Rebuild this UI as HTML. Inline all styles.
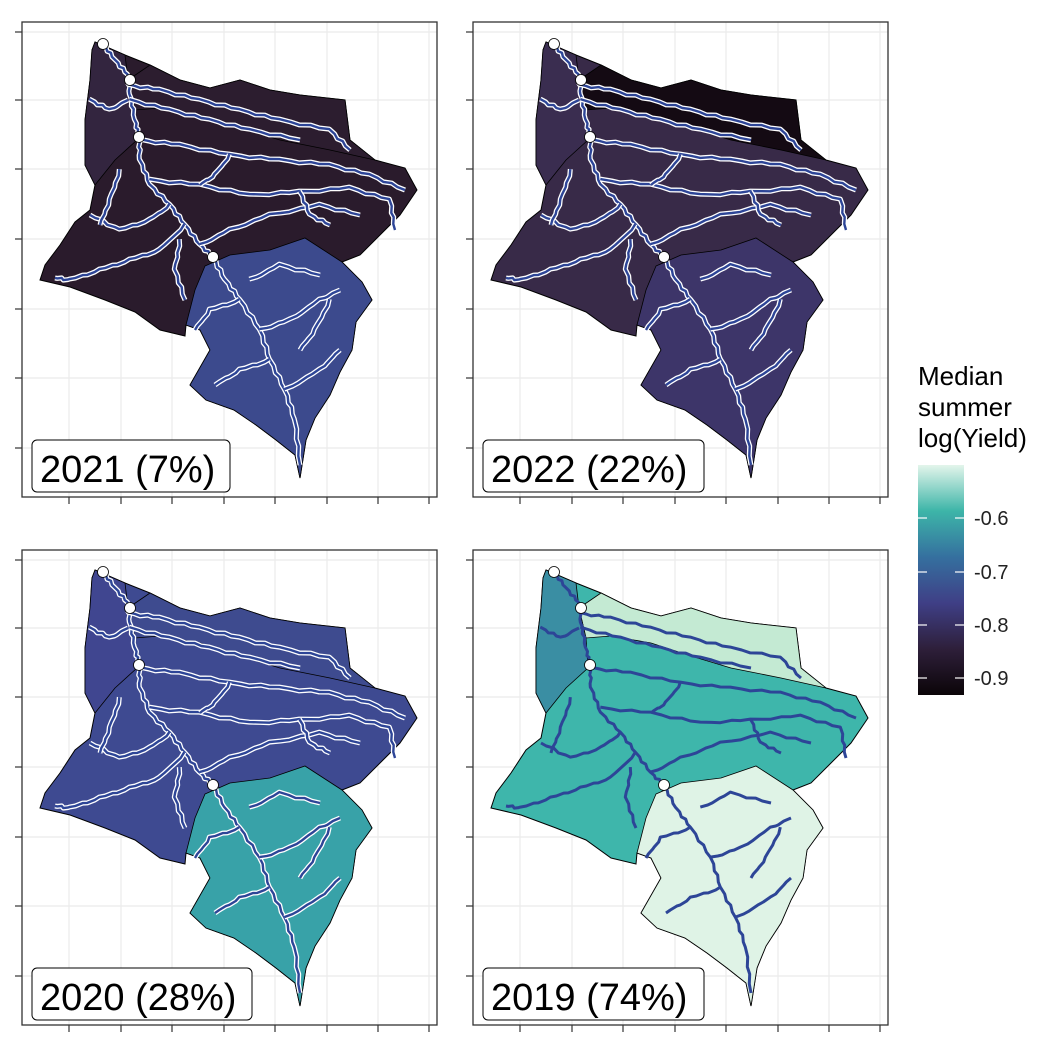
<!DOCTYPE html>
<html><head><meta charset="utf-8"><style>
body{margin:0;background:#fff;}
svg{display:block;font-family:"Liberation Sans",sans-serif;}
</style></head><body>
<svg id="s" width="1056" height="1056" viewBox="0 0 1056 1056" xmlns="http://www.w3.org/2000/svg">
<defs>
<linearGradient id="cb" x1="0" y1="1" x2="0" y2="0">
<stop offset="0" stop-color="#0b0508"/>
<stop offset="0.2" stop-color="#2e1f3a"/>
<stop offset="0.4" stop-color="#3f3f86"/>
<stop offset="0.6" stop-color="#35709f"/>
<stop offset="0.8" stop-color="#3db5a8"/>
<stop offset="1" stop-color="#e3f5eb"/>
</linearGradient>
</defs>
<g id="root"></g>
<text x="918" y="385" font-size="26">Median</text>
<text x="918" y="416" font-size="26">summer</text>
<text x="918" y="447" font-size="26">log(Yield)</text>
<rect x="918" y="465" width="46" height="230" fill="url(#cb)"/>
<g stroke="#fff" stroke-width="1.2">
<line x1="918" y1="518" x2="927" y2="518"/><line x1="955" y1="518" x2="964" y2="518"/>
<line x1="918" y1="572" x2="927" y2="572"/><line x1="955" y1="572" x2="964" y2="572"/>
<line x1="918" y1="625" x2="927" y2="625"/><line x1="955" y1="625" x2="964" y2="625"/>
<line x1="918" y1="678" x2="927" y2="678"/><line x1="955" y1="678" x2="964" y2="678"/>
</g>
<g font-size="20" fill="#222">
<text x="974" y="525">-0.6</text><text x="974" y="579">-0.7</text>
<text x="974" y="632">-0.8</text><text x="974" y="685">-0.9</text>
</g>
</svg>
<script>
const NS="http://www.w3.org/2000/svg";
const root=document.getElementById("root");
const outline=[[95,42],[125,55],[150,65],[180,80],[210,88],[240,80],[270,90],[300,95],[345,100],[350,140],[375,160],[405,168],[417,190],[400,215],[380,235],[360,255],[342,262],[362,282],[372,300],[356,322],[352,350],[340,372],[330,395],[315,418],[306,440],[300,478],[295,455],[276,440],[256,425],[234,410],[206,400],[190,385],[210,350],[200,330],[186,325],[185,336],[160,330],[135,312],[105,300],[70,287],[40,280],[45,265],[60,245],[75,222],[90,210],[95,185],[85,165],[85,120],[90,80],[92,50]];
const D=[[205,266],[230,255],[270,250],[305,238],[342,262],[362,282],[372,300],[356,322],[352,350],[340,372],[330,395],[315,418],[306,440],[300,478],[295,455],[276,440],[256,425],[234,410],[206,400],[190,385],[210,350],[200,330],[186,325],[195,290]];
const TOP=[[128,80],[150,65],[180,80],[210,88],[240,80],[270,90],[300,95],[345,100],[350,140],[375,160],[330,150],[280,140],[240,128],[200,115],[160,108],[135,110]];
const LEFT=[[95,42],[125,55],[128,80],[135,110],[137,140],[115,160],[95,185],[85,165],[85,120],[90,80],[92,50]];
const streams=[
[[103,44],[115,60],[128,75],[130,95],[135,120],[139,137],[140,160],[150,185],[170,205],[185,225],[200,245],[213,257]],
[[128,85],[160,90],[200,100],[240,110],[280,120],[330,130],[350,150]],
[[130,100],[170,110],[210,120],[250,130],[300,140]],
[[140,140],[180,145],[230,155],[280,160],[330,165],[370,175],[405,190]],
[[150,180],[200,185],[250,195],[300,192],[350,188],[390,200],[395,230]],
[[170,205],[150,220],[120,230],[90,215]],
[[185,225],[160,250],[130,260],[100,270],[70,280],[55,278]],
[[200,245],[230,230],[270,215],[320,205],[360,215]],
[[213,257],[225,280],[240,300],[260,330],[270,360],[285,390],[295,420],[300,465]],
[[240,300],[210,310],[195,330]],
[[260,330],[290,320],[320,300],[340,290]],
[[270,360],[240,370],[215,385]],
[[285,390],[320,370],[340,350]],
[[250,280],[280,265],[320,275]],
[[90,100],[110,110],[128,100]],
[[120,170],[110,200],[100,225]],
[[180,240],[175,270],[185,300]],
[[230,155],[215,175],[200,185]],
[[300,192],[310,215],[330,225]],
[[330,300],[315,330],[300,350]]
];
const panels=[
{dx:0,dy:0,lab:"2021 (7%)",bw:198,main:"#2a1b2c",d:"#3c4a8d",top:"#2c1d2f",left:"#33253f",sw:true},
{dx:451,dy:0,lab:"2022 (22%)",bw:221,main:"#382a48",d:"#3d3569",top:"#140a13",left:"#3a2d50",sw:true},
{dx:0,dy:528,lab:"2020 (28%)",bw:220,main:"#3e4a91",d:"#38a2a8",top:"#3e4b8f",left:"#404690",sw:true},
{dx:451,dy:528,lab:"2019 (74%)",bw:221,main:"#3eb6ab",d:"#dff3e6",top:"#c4ead3",left:"#3a8ea3",sw:false}
];
function el(t,a,p){const e=document.createElementNS(NS,t);for(const k in a)e.setAttribute(k,a[k]);(p||root).appendChild(e);return e;}
function pts(a,dx,dy){return a.map(p=>(p[0]+dx)+","+(p[1]+dy)).join(" ");}
function wig(a){const o=[];for(let i=0;i<a.length-1;i++){const [x1,y1]=a[i],[x2,y2]=a[i+1];const n=5;for(let k=0;k<n;k++){const t=k/n;o.push([x1+(x2-x1)*t+((k%2)?0.7:-0.7),y1+(y2-y1)*t+((k%3)-1)*0.9]);}}o.push(a[a.length-1]);return o;}
const vx=[69,121,172,224,275,327,378,429],hy=[32,100,169,239,309,378,448];
for(const P of panels){
 const g=el("g",{});
 el("rect",{x:22+P.dx,y:22+P.dy,width:415,height:475,fill:"#fff"},g);
 for(const x of vx){el("line",{x1:x+P.dx,y1:22+P.dy,x2:x+P.dx,y2:497+P.dy,stroke:"#ebebeb","stroke-width":1.2},g);el("line",{x1:x+P.dx,y1:497+P.dy,x2:x+P.dx,y2:504+P.dy,stroke:"#333","stroke-width":1.2},g);}
 for(const y of hy){el("line",{x1:22+P.dx,y1:y+P.dy,x2:437+P.dx,y2:y+P.dy,stroke:"#ebebeb","stroke-width":1.2},g);el("line",{x1:15+P.dx,y1:y+P.dy,x2:22+P.dx,y2:y+P.dy,stroke:"#333","stroke-width":1.2},g);}
 el("polygon",{points:pts(outline,P.dx,P.dy),fill:P.main,stroke:"#000","stroke-width":1},g);
 el("polygon",{points:pts(TOP,P.dx,P.dy),fill:P.top,stroke:"#000","stroke-width":0.8},g);
 el("polygon",{points:pts(LEFT,P.dx,P.dy),fill:P.left,stroke:"#000","stroke-width":0.8},g);
 el("polygon",{points:pts(D,P.dx,P.dy),fill:P.d,stroke:"#000","stroke-width":0.8},g);
 for(const s of streams){const w=pts(wig(s),P.dx,P.dy);
  if(P.sw)el("polyline",{points:w,fill:"none",stroke:"#fff","stroke-width":5,"stroke-linejoin":"round"},g);
  el("polyline",{points:w,fill:"none",stroke:"#2d4597","stroke-width":P.sw?2.4:3,"stroke-linejoin":"round"},g);}
 for(const c of [[103,44],[130,80],[139,137],[213,257]])el("circle",{cx:c[0]+P.dx,cy:c[1]+P.dy,r:5.5,fill:"#fff",stroke:"#000","stroke-width":0.8},g);
 el("rect",{x:22+P.dx,y:22+P.dy,width:415,height:475,fill:"none",stroke:"#333","stroke-width":1.3},g);
 el("rect",{x:32+P.dx,y:440+P.dy,width:P.bw,height:52,rx:5,fill:"#fff",stroke:"#000","stroke-width":1},g);
 const t=el("text",{x:40+P.dx,y:482+P.dy,"font-size":38,fill:"#000"},g);t.textContent=P.lab;
}
</script>
</body></html>
